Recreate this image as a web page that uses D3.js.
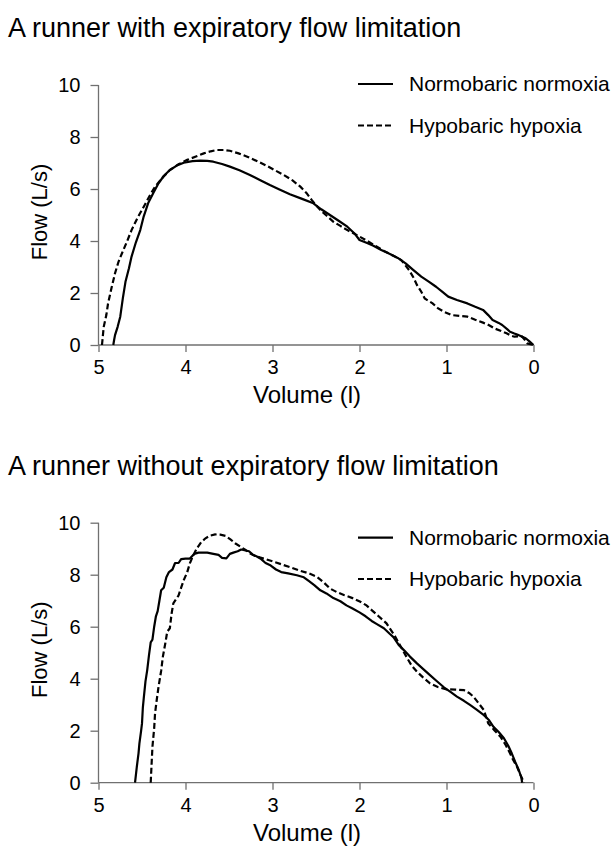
<!DOCTYPE html>
<html>
<head>
<meta charset="utf-8">
<script src="https://cdn.jsdelivr.net/npm/d3@7"></script>
<style>
  body { margin: 0; background: #fff; }
  svg { display: block; font-family: "Liberation Sans", Arial, sans-serif; }
</style>
</head>
<body>
<div id="content"></div>
<script>
// titles, legend and tick labels
var titles = ["A runner with expiratory flow limitation", "A runner without expiratory flow limitation"];
var seriesNames = ["Normobaric normoxia", "Hypobaric hypoxia"];
var xTicks = [5, 4, 3, 2, 1, 0];
var yTicks = [0, 2, 4, 6, 8, 10];

// top panel: with expiratory flow limitation
var topNormVol = [4.83, 4.82, 4.81, 4.78, 4.75, 4.72, 4.69, 4.65, 4.62, 4.57, 4.52, 4.48, 4.43, 4.37, 4.31, 4.25, 4.18, 4.10, 4.02, 3.92, 3.83, 3.75, 3.68, 3.58, 3.49, 3.38, 3.26, 3.14, 3.03, 2.92, 2.80, 2.66, 2.53, 2.44, 2.34, 2.24, 2.14, 2.06, 2.00, 1.92, 1.84, 1.75, 1.65, 1.56, 1.47, 1.38, 1.29, 1.20, 1.12, 1.05, 0.98, 0.88, 0.76, 0.67, 0.58, 0.52, 0.47, 0.40, 0.36, 0.30, 0.27, 0.22, 0.18, 0.13, 0.09, 0.05, 0];
var topNormFlow = [0, 0.2, 0.38, 0.7, 1.09, 1.8, 2.43, 2.95, 3.4, 3.95, 4.42, 4.95, 5.45, 5.85, 6.22, 6.5, 6.73, 6.9, 7.01, 7.07, 7.09, 7.08, 7.05, 6.96, 6.86, 6.72, 6.54, 6.34, 6.15, 5.98, 5.8, 5.62, 5.45, 5.22, 5.0, 4.78, 4.55, 4.3, 4.04, 3.93, 3.82, 3.65, 3.5, 3.35, 3.14, 2.88, 2.63, 2.43, 2.24, 2.05, 1.86, 1.73, 1.6, 1.47, 1.35, 1.15, 0.96, 0.85, 0.77, 0.6, 0.51, 0.44, 0.39, 0.32, 0.26, 0.15, 0];
var topHypoVol = [4.96, 4.95, 4.94, 4.91, 4.89, 4.85, 4.81, 4.77, 4.73, 4.67, 4.62, 4.55, 4.48, 4.41, 4.35, 4.26, 4.18, 4.08, 3.98, 3.88, 3.79, 3.71, 3.64, 3.56, 3.49, 3.39, 3.29, 3.17, 3.06, 2.96, 2.87, 2.77, 2.68, 2.61, 2.55, 2.50, 2.45, 2.38, 2.30, 2.22, 2.14, 2.07, 2.00, 1.90, 1.80, 1.72, 1.65, 1.58, 1.52, 1.47, 1.43, 1.38, 1.34, 1.29, 1.25, 1.16, 1.10, 1.03, 0.94, 0.85, 0.76, 0.67, 0.58, 0.51, 0.45, 0.38, 0.31, 0.26, 0.22, 0.17, 0.13, 0.10, 0.07, 0];
var topHypoFlow = [0, 0.35, 0.7, 1.15, 1.6, 2.2, 2.76, 3.2, 3.53, 4.0, 4.42, 4.9, 5.32, 5.75, 6.09, 6.45, 6.73, 6.95, 7.12, 7.25, 7.37, 7.45, 7.5, 7.5, 7.47, 7.37, 7.24, 7.06, 6.88, 6.7, 6.54, 6.33, 6.09, 5.85, 5.58, 5.38, 5.19, 4.98, 4.74, 4.58, 4.42, 4.3, 4.17, 3.98, 3.78, 3.62, 3.5, 3.38, 3.27, 3.05, 2.88, 2.6, 2.31, 2.05, 1.79, 1.6, 1.42, 1.28, 1.15, 1.12, 1.09, 0.97, 0.86, 0.76, 0.64, 0.55, 0.45, 0.36, 0.32, 0.33, 0.32, 0.2, 0.06, 0];

// bottom panel: without expiratory flow limitation
var botNormVol = [4.58, 4.56, 4.54, 4.53, 4.51, 4.50, 4.49, 4.48, 4.46, 4.44, 4.42, 4.40, 4.38, 4.36, 4.34, 4.32, 4.30, 4.28, 4.25, 4.22, 4.19, 4.15, 4.12, 4.08, 4.05, 4.00, 3.95, 3.90, 3.85, 3.75, 3.68, 3.62, 3.58, 3.53, 3.49, 3.45, 3.40, 3.36, 3.31, 3.27, 3.23, 3.18, 3.13, 3.08, 3.02, 2.96, 2.90, 2.82, 2.72, 2.64, 2.58, 2.52, 2.45, 2.38, 2.30, 2.22, 2.15, 2.08, 2.00, 1.93, 1.86, 1.80, 1.72, 1.65, 1.61, 1.55, 1.49, 1.42, 1.34, 1.27, 1.19, 1.11, 1.03, 0.95, 0.88, 0.80, 0.73, 0.65, 0.57, 0.51, 0.46, 0.40, 0.34, 0.29, 0.25, 0.21, 0.17, 0.14, 0.13];
var botNormFlow = [0, 0.6, 1.13, 1.5, 2.0, 2.28, 2.9, 3.24, 3.9, 4.33, 4.9, 5.4, 5.5, 6.0, 6.4, 6.6, 7.0, 7.4, 7.5, 7.9, 8.1, 8.2, 8.45, 8.45, 8.6, 8.62, 8.62, 8.8, 8.85, 8.85, 8.8, 8.76, 8.65, 8.63, 8.8, 8.85, 8.9, 8.97, 8.93, 8.9, 8.78, 8.7, 8.6, 8.45, 8.35, 8.2, 8.1, 8.05, 7.98, 7.9, 7.75, 7.6, 7.4, 7.28, 7.1, 6.98, 6.82, 6.7, 6.55, 6.4, 6.22, 6.1, 5.94, 5.72, 5.6, 5.3, 5.1, 4.85, 4.59, 4.38, 4.14, 3.9, 3.67, 3.48, 3.31, 3.15, 2.99, 2.8, 2.6, 2.4, 2.15, 1.95, 1.71, 1.42, 1.13, 0.8, 0.49, 0.2, 0];
var botHypoVol = [4.40, 4.39, 4.38, 4.36, 4.35, 4.33, 4.31, 4.28, 4.26, 4.23, 4.21, 4.18, 4.16, 4.14, 4.10, 4.08, 4.05, 4.02, 3.98, 3.95, 3.91, 3.87, 3.82, 3.77, 3.72, 3.66, 3.60, 3.54, 3.48, 3.43, 3.37, 3.31, 3.26, 3.20, 3.14, 3.07, 2.97, 2.87, 2.78, 2.68, 2.58, 2.49, 2.41, 2.34, 2.26, 2.18, 2.08, 1.99, 1.92, 1.86, 1.78, 1.69, 1.59, 1.52, 1.45, 1.40, 1.34, 1.27, 1.19, 1.10, 1.00, 0.90, 0.80, 0.74, 0.69, 0.63, 0.57, 0.52, 0.45, 0.38, 0.32, 0.27, 0.23, 0.19, 0.15, 0.11];
var botHypoFlow = [0, 0.7, 1.38, 2.1, 2.67, 3.2, 3.69, 4.3, 4.85, 5.4, 5.81, 5.94, 6.5, 6.9, 7.1, 7.2, 7.5, 7.79, 8.1, 8.44, 8.75, 9.01, 9.25, 9.4, 9.5, 9.55, 9.54, 9.49, 9.35, 9.21, 9.08, 8.95, 8.82, 8.72, 8.66, 8.59, 8.48, 8.37, 8.27, 8.15, 8.05, 7.92, 7.7, 7.47, 7.33, 7.22, 7.1, 6.96, 6.82, 6.64, 6.4, 6.13, 5.62, 5.2, 4.78, 4.5, 4.27, 4.05, 3.82, 3.68, 3.59, 3.58, 3.56, 3.45, 3.31, 3.05, 2.79, 2.28, 2.02, 1.77, 1.45, 1.13, 0.85, 0.62, 0.3, 0];

var W = 613, H = 848;
var svg = d3.select("#content").append("svg")
    .attr("width", W)
    .attr("height", H);

var x = d3.scaleLinear().domain([5, 0]).range([98.5, 533.5]);

function zip(vol, flow) {
    return vol.map(function (v, i) { return { v: v, f: flow[i] }; });
}

function drawPanel(title, top, norm, hypo) {
    var g = svg.append("g");
    var y = d3.scaleLinear().domain([0, 10]).range([top + 260, top]);

    g.append("text")
        .attr("x", 8)
        .attr("y", top - 48)
        .attr("font-size", 27)
        .attr("fill", "#000")
        .text(title);

    var xAxis = d3.axisBottom(x).tickValues(xTicks).tickSize(7).tickPadding(8).tickFormat(d3.format("d"));
    var yAxis = d3.axisLeft(y).tickValues(yTicks).tickSize(8).tickPadding(10);

    var gx = g.append("g")
        .attr("transform", "translate(0," + (top + 260) + ")")
        .call(xAxis);
    var gy = g.append("g")
        .attr("transform", "translate(" + 98.5 + ",0)")
        .call(yAxis);

    [gx, gy].forEach(function (a) {
        a.select(".domain").attr("stroke", "#707070").attr("stroke-width", 1.3);
        a.selectAll(".tick line").attr("stroke", "#707070").attr("stroke-width", 1.3);
        a.selectAll(".tick text").attr("font-size", 20).attr("fill", "#000")
            .attr("font-family", "'Liberation Sans', Arial, sans-serif");
    });
    gx.select(".domain").attr("d", "M98.5,0H533.5");
    gy.select(".domain").attr("d", "M0," + (top + 260) + "V" + top);

    g.append("text")
        .attr("x", 307)
        .attr("y", top + 318)
        .attr("text-anchor", "middle")
        .attr("font-size", 24)
        .text("Volume (l)");

    g.append("text")
        .attr("transform", "translate(47," + (top + 127) + ") rotate(-90)")
        .attr("text-anchor", "middle")
        .attr("font-size", 22)
        .text("Flow (L/s)");

    var line = d3.line()
        .x(function (d) { return x(d.v); })
        .y(function (d) { return y(d.f); })
        .curve(d3.curveLinear);

    g.append("path")
        .datum(zip(norm[0], norm[1]))
        .attr("fill", "none")
        .attr("stroke", "#000")
        .attr("stroke-width", 2.2)
        .attr("stroke-linejoin", "round")
        .attr("d", line);

    g.append("path")
        .datum(zip(hypo[0], hypo[1]))
        .attr("fill", "none")
        .attr("stroke", "#000")
        .attr("stroke-width", 2.2)
        .attr("stroke-dasharray", "6,3")
        .attr("d", line);

    return g;
}

var g1 = drawPanel(titles[0], 85, [topNormVol, topNormFlow], [topHypoVol, topHypoFlow]);
var g2 = drawPanel(titles[1], 522.7, [botNormVol, botNormFlow], [botHypoVol, botHypoFlow]);

// legends
function legend(g, y0, y1) {
    [y0, y1].forEach(function (yy, i) {
        g.append("line")
            .attr("x1", 358).attr("x2", 393)
            .attr("y1", yy).attr("y2", yy)
            .attr("stroke", "#000")
            .attr("stroke-width", 2.2)
            .attr("stroke-dasharray", i === 1 ? "6,3" : null);
        g.append("text")
            .attr("x", 409)
            .attr("y", yy + 7)
            .attr("font-size", 21)
            .text(seriesNames[i]);
    });
}
legend(g1, 84, 125.5);
legend(g2, 537.7, 579);
</script>
</body>
</html>
